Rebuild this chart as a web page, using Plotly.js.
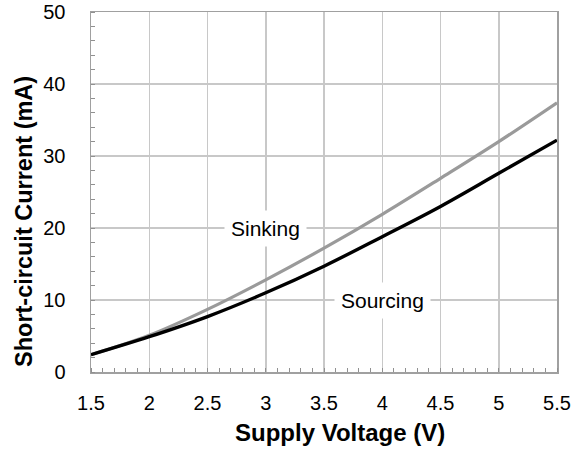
<!DOCTYPE html>
<html>
<head>
<meta charset="utf-8">
<script src="https://cdn.plot.ly/plotly-3.0.1.min.js"></script>
<style>html,body{margin:0;padding:0;background:#fff;}#chart{width:580px;height:451px;}</style>
</head>
<body>
<div id="chart"></div>
<script>
const supplyVoltage = [1.5, 2.0, 2.5, 3.0, 3.5, 4.0, 4.5, 5.0, 5.5];
const sinkingCurrent = [2.4, 5.1, 8.7, 12.8, 17.2, 21.9, 26.9, 32.0, 37.4];
const sourcingCurrent = [2.4, 4.9, 7.7, 11.0, 14.7, 18.8, 23.0, 27.6, 32.2];
const xTickVals = [1.5, 2, 2.5, 3, 3.5, 4, 4.5, 5, 5.5];
const xTickText = ['1.5', '2', '2.5', '3', '3.5', '4', '4.5', '5', '5.5'];
const yTickVals = [0, 10, 20, 30, 40, 50];
const xTitle = 'Supply Voltage (V)';
const yTitle = 'Short-circuit Current (mA)';

const FONT = 'Liberation Sans, Arial, sans-serif';
const traces = [
  {x: supplyVoltage, y: sinkingCurrent, name: 'Sinking', mode: 'lines',
   line: {color: '#9a9a9a', width: 3.2, shape: 'spline', smoothing: 1}},
  {x: supplyVoltage, y: sourcingCurrent, name: 'Sourcing', mode: 'lines',
   line: {color: '#000000', width: 3.4, shape: 'spline', smoothing: 1}}
];
const layout = {
  width: 580, height: 451,
  margin: {l: 91, r: 23, t: 12, b: 79},
  paper_bgcolor: '#fff', plot_bgcolor: '#fff',
  showlegend: false,
  font: {family: FONT, color: '#000'},
  xaxis: {
    range: [1.5, 5.5], tickvals: xTickVals, ticktext: xTickText,
    showgrid: true, gridcolor: '#c8c8c8', gridwidth: 1.5,
    showline: true, linecolor: '#a0a0a0', linewidth: 1.5, mirror: true,
    ticks: '', ticklabelstandoff: 12,
    tickfont: {size: 20, family: FONT, color: '#000'},
    minor: {dtick: 0.1, ticks: 'inside', ticklen: 4, tickcolor: '#909090', tickwidth: 1, showgrid: false},
    zeroline: false
  },
  yaxis: {
    range: [0, 50], tickvals: yTickVals,
    showgrid: true, gridcolor: '#c8c8c8', gridwidth: 1.5,
    showline: true, linecolor: '#a0a0a0', linewidth: 1.5, mirror: true,
    ticks: '', ticklabelstandoff: 20,
    tickfont: {size: 20, family: FONT, color: '#000'},
    minor: {dtick: 2, ticks: 'inside', ticklen: 4, tickcolor: '#909090', tickwidth: 1, showgrid: false},
    zeroline: false
  },
  annotations: [
    {x: 3.0, y: 20, xref: 'x', yref: 'y', text: 'Sinking', showarrow: false,
     font: {size: 21, family: FONT, color: '#000'}, bgcolor: '#fff', borderpad: 6,
     xanchor: 'center', yanchor: 'middle'},
    {x: 4.0, y: 10, xref: 'x', yref: 'y', text: 'Sourcing', showarrow: false,
     font: {size: 21, family: FONT, color: '#000'}, bgcolor: '#fff', borderpad: 6,
     xanchor: 'center', yanchor: 'middle'},
    {x: 340, y: 451 - 432, xref: 'paper', yref: 'paper', text: '<b>' + xTitle + '</b>', showarrow: false,
     font: {size: 24, family: FONT, color: '#000'}, xanchor: 'center', yanchor: 'middle'},
    {x: 24, y: 451 - 222, xref: 'paper', yref: 'paper', text: '<b>' + yTitle + '</b>', showarrow: false,
     textangle: -90, font: {size: 23.5, family: FONT, color: '#000'}, xanchor: 'center', yanchor: 'middle'}
  ]
};
// convert pixel positions of the title annotations to paper fractions
const pw = layout.width - layout.margin.l - layout.margin.r;
const ph = layout.height - layout.margin.t - layout.margin.b;
layout.annotations.slice(2).forEach(a => {
  a.x = (a.x - layout.margin.l) / pw;
  a.y = (a.y - layout.margin.b) / ph;
});
Plotly.newPlot('chart', traces, layout, {displayModeBar: false, staticPlot: true});
</script>
</body>
</html>
